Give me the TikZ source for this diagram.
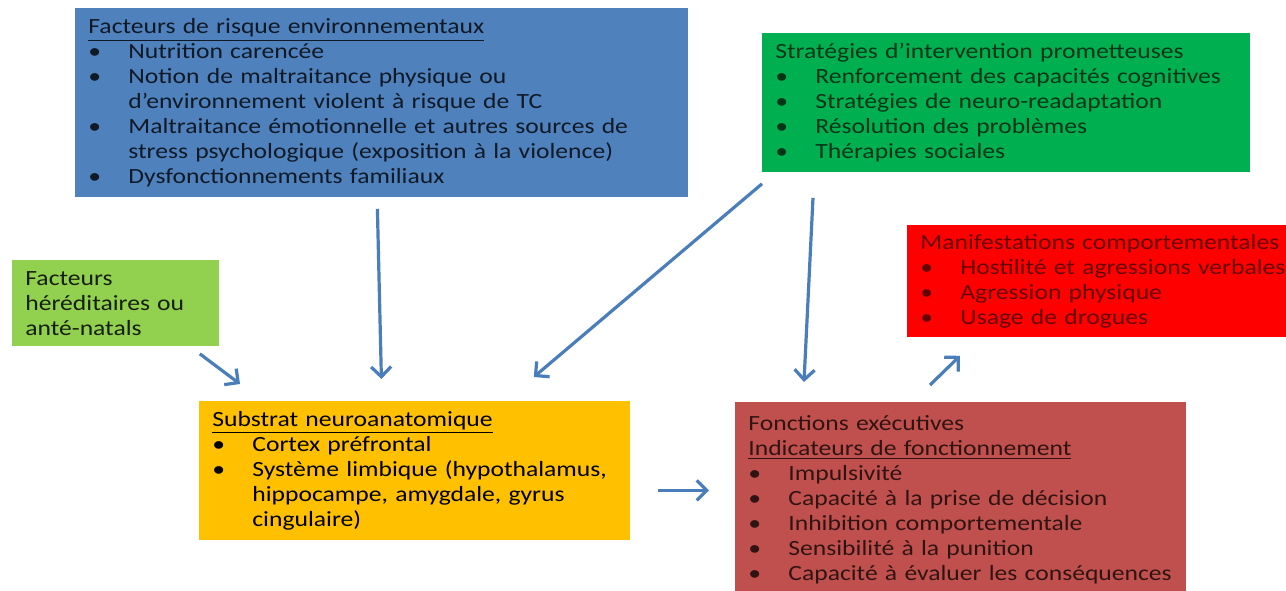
\documentclass[tikz,border=0pt]{standalone}
\usepackage{fontspec}
\setmainfont{Carlito}[FakeStretch=1.18]
\usetikzlibrary{arrows.meta}

\definecolor{envblue}{HTML}{4F81BD}
\definecolor{stratgreen}{HTML}{00B050}
\definecolor{heredgreen}{HTML}{92D050}
\definecolor{substyellow}{HTML}{FFC000}
\definecolor{fonctred}{HTML}{C0504D}
\definecolor{manifred}{HTML}{FF0000}
\definecolor{arrowblue}{HTML}{4A7EBB}

\newlength{\itmind}
\setlength{\itmind}{20pt}
\newcommand{\itm}[1]{\par\noindent\makebox[\itmind][l]{\textbullet}#1}
\newcommand{\cnt}[1]{\par\noindent\hspace*{\itmind}#1}

\tikzset{
  box/.style={anchor=north west, inner xsep=6.5pt, inner ysep=0pt, align=left,
    font=\fontsize{10.85pt}{12.5pt}\selectfont},
  arr/.style={draw=arrowblue, line width=1.6pt, -{Straight Barb[length=5pt,width=10pt]}}
}

\begin{document}
\begin{tikzpicture}[x=0.5pt,y=-0.5pt]
  \useasboundingbox (0,0) rectangle (1286,590);
  \clip (0,0) rectangle (1286,590);
  \fill[white] (0,0) rectangle (1286,590);

  \node[box, fill=envblue, text=black!80!envblue, text width=293.5pt, minimum height=94.5pt] (env) at (75,8) {%
    \underline{Facteurs de risque environnementaux}
    \itm{Nutrition carencée}
    \itm{Notion de maltraitance physique ou}
    \cnt{d’environnement violent à risque de TC}
    \itm{Maltraitance émotionnelle et autres sources de}
    \cnt{stress psychologique (exposition à la violence)}
    \itm{Dysfonctionnements familiaux}};
  \node[box, fill=stratgreen, text=black!70!stratgreen, text width=231pt, minimum height=69.5pt] (strat) at (762,33) {%
    Stratégies d’intervention prometteuses
    \itm{Renforcement des capacités cognitives}
    \itm{Stratégies de neuro-readaptation}
    \itm{Résolution des problèmes}
    \itm{Thérapies sociales}};
  \node[box, fill=heredgreen, text=black!85!heredgreen, text width=90.5pt, minimum height=43pt] (hered) at (12,260) {%
    Facteurs\par héréditaires ou\par anté-natals};
  \node[box, fill=substyellow, text=black, text width=202.5pt, minimum height=69.5pt] (subst) at (199,401) {%
    \underline{Substrat neuroanatomique}
    \itm{Cortex préfrontal}
    \itm{Système limbique (hypothalamus,}
    \cnt{hippocampe, amygdale, gyrus}
    \cnt{cingulaire)}};
  \node[box, fill=fonctred, text=black!75!fonctred, text width=212.5pt, minimum height=97.5pt] (fonct) at (735,402) {%
    Fonctions exécutives
    \par\underline{Indicateurs de fonctionnement}
    \itm{Impulsivité}
    \itm{Capacité à la prise de décision}
    \itm{Inhibition comportementale}
    \itm{Sensibilité à la punition}
    \itm{Capacité à évaluer les conséquences}};
  \node[box, fill=manifred, text=black!60!manifred, text width=187pt, minimum height=56pt] (manif) at (907,225) {%
    Manifestations comportementales
    \itm{Hostilité et agressions verbales}
    \itm{Agression physique}
    \itm{Usage de drogues}};

  \draw[arr] ([shift={(-4.5,11)}]env.south) -- ([shift={(-33.5,-22)}]subst.north);
  \draw[arr] ([shift={(-20,7)}]hered.south east) -- ([shift={(41,-17)}]subst.north west);
  \draw[arr] ([shift={(0,11)}]strat.south west) -- ([shift={(-97,-24)}]subst.north east);
  \draw[arr] ([shift={(51,25)}]strat.south west) -- ([shift={(69,-20)}]fonct.north west);
  \draw[arr] ([shift={(27,19.5)}]subst.east) -- ([shift={(-26,-9.5)}]fonct.west);
  \draw[arr] ([shift={(195,-17)}]fonct.north west) -- ([shift={(53,18)}]manif.south west);
\end{tikzpicture}
\end{document}
